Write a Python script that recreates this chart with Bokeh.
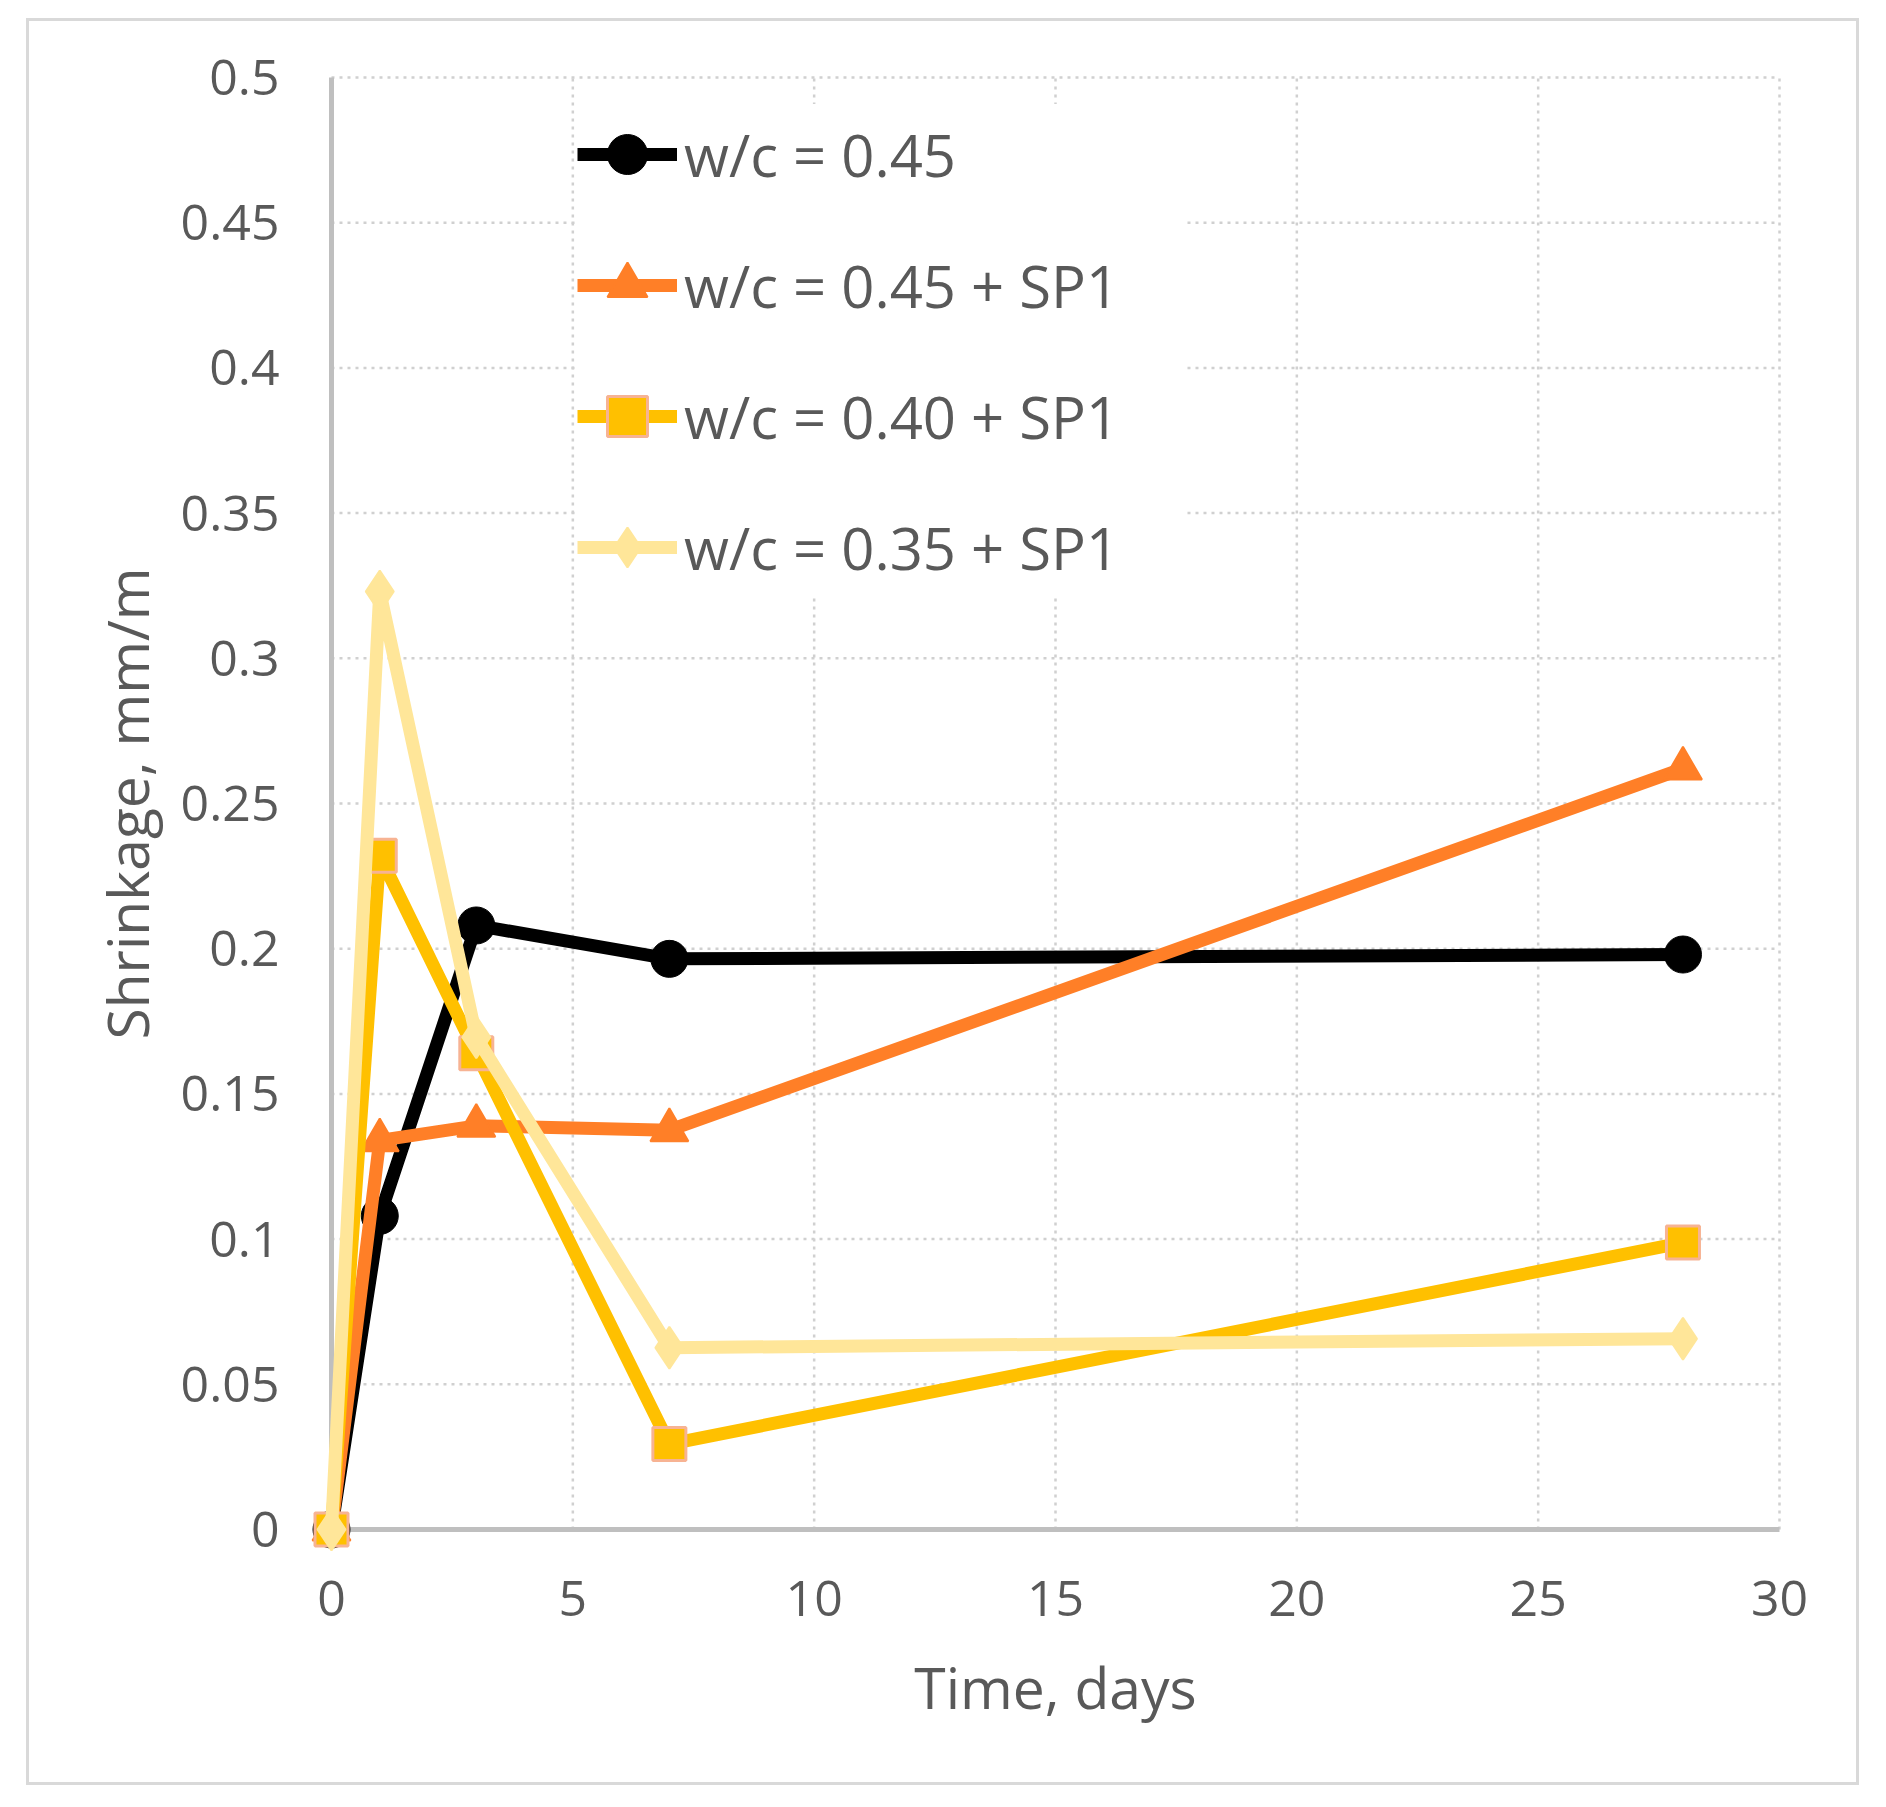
from bokeh.plotting import figure
from bokeh.models import (FixedTicker, Range1d, Legend, LegendItem)
from bokeh.embed import file_html
from bokeh.resources import INLINE

# ---- data ----
days = [0, 1, 3, 7, 28]
wc045 = [0, 0.108, 0.208, 0.1965, 0.198]
wc045_sp1 = [0, 0.134, 0.139, 0.1375, 0.262]
wc040_sp1 = [0, 0.232, 0.164, 0.0294, 0.0988]
wc035_sp1 = [0, 0.323, 0.1695, 0.0626, 0.0657]

series_names = ["w/c = 0.45", "w/c = 0.45 + SP1", "w/c = 0.40 + SP1", "w/c = 0.35 + SP1"]

x_ticks = [0, 5, 10, 15, 20, 25, 30]
y_ticks = [0, 0.05, 0.1, 0.15, 0.2, 0.25, 0.3, 0.35, 0.4, 0.45, 0.5]
y_tick_labels = ["0", "0.05", "0.1", "0.15", "0.2", "0.25", "0.3", "0.35", "0.4", "0.45", "0.5"]
x_title = "Time, days"
y_title = "Shrinkage, mm/m"

FONT = "Open Sans"
TXT = "#595959"
GRID = "#D0D0D0"
AXIS = "#BFBFBF"

p = figure(width=1827, height=1761, output_backend="svg", toolbar_location=None,
           x_range=Range1d(-0.6008, 30.6008), y_range=Range1d(-0.01102, 0.51102),
           min_border_left=273, min_border_right=48, min_border_top=24, min_border_bottom=221)
p.margin = (21, 0, 0, 29)
p.styles = {"outline": "3px solid #D9D9D9"}
p.outline_line_color = None
p.xgrid.visible = False
p.ygrid.visible = False
p.background_fill_color = "white"
p.border_fill_color = "white"

# dotted gridlines bounded to the data area
xmin, xmax = x_ticks[0], x_ticks[-1]
ymin, ymax = y_ticks[0], y_ticks[-1]
hx = list(y_ticks[1:])
p.segment(x0=[xmin] * len(hx), x1=[xmax] * len(hx), y0=hx, y1=hx,
          line_color=GRID, line_width=2.5, line_dash="3 5", level="underlay")
vx = list(x_ticks[1:])
p.segment(x0=vx, x1=vx, y0=[ymin] * len(vx), y1=[ymax] * len(vx),
          line_color=GRID, line_width=2.5, line_dash="3 5", level="underlay")
# axis lines
p.segment(x0=[xmin], x1=[xmax], y0=[ymin], y1=[ymin], line_color=AXIS, line_width=5)
p.segment(x0=[xmin], x1=[xmin], y0=[ymin], y1=[ymax], line_color=AXIS, line_width=5)

# axes
p.xaxis.ticker = FixedTicker(ticks=x_ticks)
p.yaxis.ticker = FixedTicker(ticks=y_ticks)
p.yaxis.major_label_overrides = {t: l for t, l in zip(y_ticks, y_tick_labels)}
for ax in (p.xaxis, p.yaxis):
    ax.axis_line_color = None
    ax.major_tick_line_color = None
    ax.minor_tick_line_color = None
    ax.major_tick_out = 0
    ax.major_tick_in = 0
    ax.major_label_text_font = FONT
    ax.major_label_text_font_size = "50px"
    ax.major_label_text_color = TXT
    ax.axis_label_text_font = FONT
    ax.axis_label_text_font_size = "57px"
    ax.axis_label_text_color = TXT
    ax.axis_label_text_font_style = "normal"
p.yaxis.major_label_standoff = 23
p.xaxis.major_label_standoff = 19
p.xaxis.axis_label = x_title
p.yaxis.axis_label = y_title
p.yaxis.axis_label_standoff = 12
p.xaxis.axis_label_standoff = 29

LW = 13
items = []

l1 = p.line(days, wc045, line_color="black", line_width=LW, line_join="round")
m1 = p.scatter(days, wc045, marker="circle", size=37, fill_color="black", line_color="black")
items.append(LegendItem(label=series_names[0], renderers=[l1, m1]))

c2 = "#FF7F27"
l2 = p.line(days, wc045_sp1, line_color=c2, line_width=LW, line_join="round")
m2 = p.scatter(days, wc045_sp1, marker="triangle", size=38, fill_color=c2, line_color=c2, line_width=2)
items.append(LegendItem(label=series_names[1], renderers=[l2, m2]))

c3 = "#FFC000"
l3 = p.line(days, wc040_sp1, line_color=c3, line_width=LW, line_join="round")
m3 = p.scatter(days, wc040_sp1, marker="square", size=33, fill_color=c3, line_color="#F7B393", line_width=3)
items.append(LegendItem(label=series_names[2], renderers=[l3, m3]))

c4 = "#FFE699"
l4 = p.line(days, wc035_sp1, line_color=c4, line_width=LW, line_join="round")
m4 = p.scatter(days, wc035_sp1, marker="diamond", size=42, fill_color=c4, line_color=c4, line_width=2)
items.append(LegendItem(label=series_names[3], renderers=[l4, m4]))

legend = Legend(items=items, location=(275, 964), orientation="vertical",
                label_text_font=FONT, label_text_font_size="58px", label_text_color=TXT,
                glyph_width=100, glyph_height=100, label_height=100, label_width=501,
                spacing=31, padding=20, margin=0, label_standoff=7,
                border_line_color=None, background_fill_color="white", background_fill_alpha=1.0)
p.add_layout(legend, "center")

open("out.html", "w").write(file_html(p, INLINE))
